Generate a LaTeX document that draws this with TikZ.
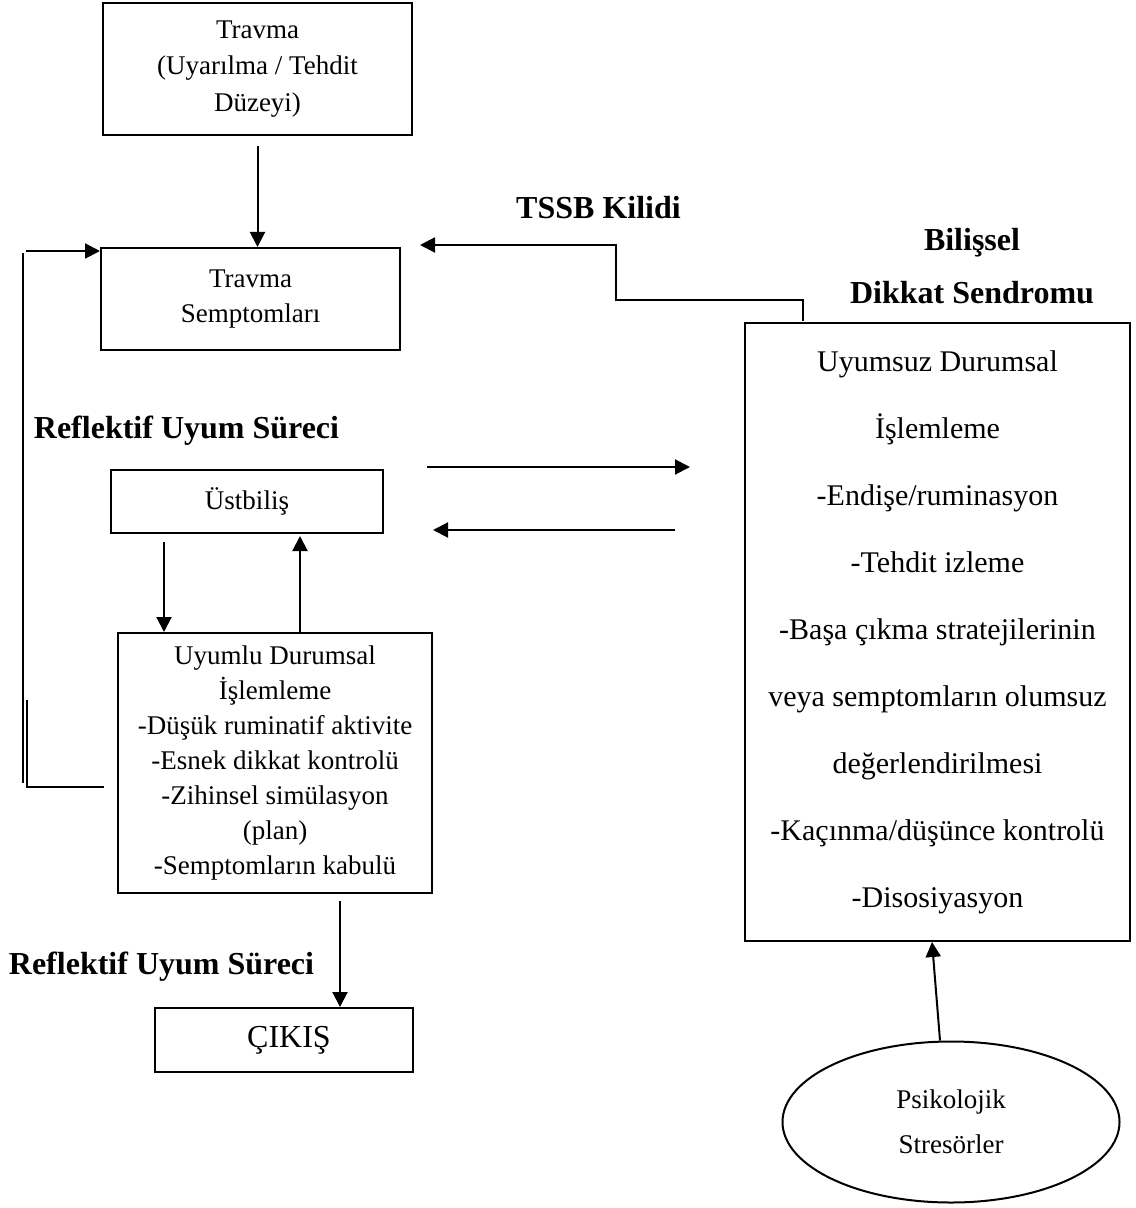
\documentclass[tikz,border=0pt]{standalone}
\usepackage{fontspec}
\setmainfont{Liberation Serif}
\usetikzlibrary{arrows.meta,shapes.geometric}
\begin{document}
\begin{tikzpicture}[x=0.5pt,y=-0.5pt,box/.style={draw,line width=1pt,align=center,inner sep=0pt},arr/.style={line width=1pt,-{Triangle[length=7.5pt,width=7.5pt]}},head/.style={font=\bfseries\fontsize{16}{26.5}\selectfont,inner sep=0pt,align=center},thin/.style={line width=0.6pt}]
\useasboundingbox (0,0) rectangle (1135,1208);
\node[box,minimum width=154.5pt,minimum height=66pt,font=\fontsize{13.5}{18.25}\selectfont] (trauma) at (257.5,69) {Travma\\(Uyarılma / Tehdit\\Düzeyi)};
\node[box,minimum width=149.5pt,minimum height=51pt,font=\fontsize{13.5}{17.5}\selectfont] (symp) at (250.5,299) {Travma\\Semptomları};
\node[box,minimum width=136pt,minimum height=31.5pt,font=\fontsize{13.5}{16}\selectfont] (meta) at (247,501.5) {Üstbiliş};
\node[box,minimum width=157pt,minimum height=130pt,font=\fontsize{13.5}{17.5}\selectfont] (adapt) at (275,763) {Uyumlu Durumsal\\İşlemleme\\-Düşük ruminatif aktivite\\-Esnek dikkat kontrolü\\-Zihinsel simülasyon\\(plan)\\-Semptomların kabulü};
\node[box,minimum width=129pt,minimum height=32pt,font=\fontsize{16}{18}\selectfont] (exit) at (284,1040) {\hspace{5pt}ÇIKIŞ};
\node[box,minimum width=192.5pt,minimum height=309pt,font=\fontsize{15}{33.5}\selectfont] (maladapt) at (937.5,632) {Uyumsuz Durumsal\\İşlemleme\\-Endişe/ruminasyon\\-Tehdit izleme\\-Başa çıkma stratejilerinin\\veya semptomların olumsuz\\değerlendirilmesi\\-Kaçınma/düşünce kontrolü\\-Disosiyasyon};
\node[box,ellipse,minimum width=168.5pt,minimum height=80.5pt,font=\fontsize{13.5}{22.5}\selectfont] (stress) at (951,1122) {Psikolojik\\Stresörler};
\node[head] (refltop) at (186.5,431) {Reflektif Uyum Süreci};\node[head] (reflbot) at (161.5,967) {Reflektif Uyum Süreci};
\node[head] (lock) at (598.5,208) {TSSB Kilidi};\node[head] (syndrome) at (972,266.5) {Bilişsel\\Dikkat Sendromu};
\draw[arr,shorten <=5pt] (trauma.south) -- (trauma.south |- symp.north);
\coordinate (lockA) at (803,321);\coordinate (lockB) at (616,300);\coordinate (lockC) at (420,245);
\draw[arr] (lockA) |- (lockB) |- (lockC);
\coordinate (fwdA) at (427,467);\coordinate (fwdB) at (690,467);\draw[arr] (fwdA) -- (fwdB);
\coordinate (backA) at (675,530);\coordinate (backB) at (433,530);\draw[arr] (backA) -- (backB);
\draw[arr,shorten <=4pt] (meta.south -| 164,0) -- (adapt.north -| 164,0);
\draw[arr,shorten >=1pt] (adapt.north -| 300,0) -- (meta.south -| 300,0);
\draw[arr,shorten <=3.5pt] (adapt.south -| 340,0) -- (exit.north -| 340,0);
\draw[arr] (stress.north -| 940,0) -- (maladapt.south -| 932,0);
\coordinate (fbA) at (26,251);\draw[arr] (fbA) -- (fbA -| symp.west);
\coordinate (fbB) at (23,253);\coordinate (fbC) at (23,783);\draw[thin] (fbB) -- (fbC);
\coordinate (fbD) at (104,787);\coordinate (fbE) at (27,787);\coordinate (fbF) at (27,700);\draw[thin] (fbD) -- (fbE) -- (fbF);
\end{tikzpicture}
\end{document}
